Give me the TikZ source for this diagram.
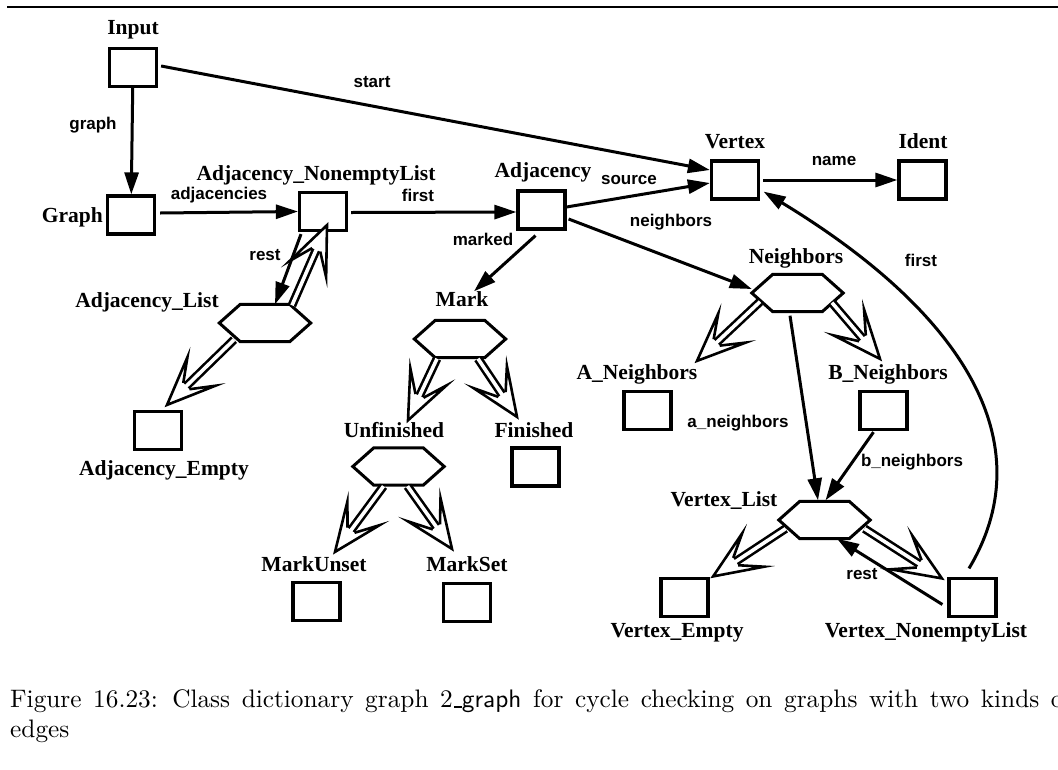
\documentclass[tikz,border=0pt]{standalone}
\usepackage{fontspec}
\usetikzlibrary{arrows.meta,calc}
\newfontfamily\clsfont{Liberation Serif}
\newfontfamily\lblfont{Liberation Sans}
\newfontfamily\capfont{lmroman10-regular}[Extension=.otf]
\newfontfamily\capsans{lmsans10-regular}[Extension=.otf]
\tikzset{
  cls/.style={draw, line width=3.2pt, minimum width=47pt, minimum height=38pt, inner sep=0pt},
  alt/.style={minimum width=91pt, minimum height=37pt, inner sep=0pt},
  hexline/.style={line width=3pt, line join=miter},
  cname/.style={font=\clsfont\bfseries\fontsize{21.5}{24}\selectfont, anchor=base, inner sep=0pt},
  elab/.style={font=\lblfont\bfseries\fontsize{17}{20}\selectfont, anchor=base, inner sep=0pt},
  rel/.style={line width=3pt, -{Triangle[length=22pt,width=14pt]}},
  dblline/.style={double, double distance=3.6pt, line width=2.6pt},
  headline/.style={line width=2.6pt, line join=miter, miter limit=20},
  captext/.style={font=\capfont\fontsize{25.3}{30}\selectfont, anchor=base west, inner sep=0pt},
}
\newcommand\hexnode[2]{%
  \node[alt] (#1) at (#2) {};
  \draw[hexline] (#1.west) -- ($(#1.north west)+(21,0)$) -- ($(#1.north east)+(-21,0)$)
     -- (#1.east) -- ($(#1.south east)+(-21,0)$) -- ($(#1.south west)+(21,0)$) -- cycle;
}
\newcommand\inhedge[2]{%
  \draw[dblline, shorten >=26pt] (#1) -- (#2);
  \path let \p1=($(#2)-(#1)$), \n1={atan2(\y1,\x1)} in \pgfextra{\xdef\inhang{\n1}};
  \begin{scope}[shift={(#2)}, rotate=\inhang]
    \fill[white] (0,0) -- (-48,20) -- (-27,4.4) -- (-27,-4.4) -- (-48,-20) -- cycle;
    \draw[headline] (-27,4.4) -- (-48,20) -- (0,0) -- (-48,-20) -- (-27,-4.4);
  \end{scope}
}
\newcommand\cmus{\kern0.06em\rule[-0.5pt]{0.3em}{2pt}}
\begin{document}
\begin{tikzpicture}[x=1pt,y=-1pt]
\useasboundingbox (0,0) rectangle (1058,769);
\clip (0,0) rectangle (1058,769);
\fill[white] (0,0) rectangle (1058,769);
\draw[line width=2.5pt] (7,7) coordinate (ruleA) -- (1058,7) coordinate (ruleB);

% class boxes
\node[cls] (Input) at (133,67.5) {};
\node[cls] (Graph) at (131,215) {};
\node[cls] (ANL) at (323,211.5) {};
\node[cls] (Adjacency) at (541.5,210) {};
\node[cls] (Vertex) at (735,180) {};
\node[cls] (Ident) at (922.5,180) {};
\node[cls] (Finished) at (535.5,467) {};
\node[cls] (MarkUnset) at (316.5,601.5) {};
\node[cls] (MarkSet) at (467,602.5) {};
\node[cls] (AdjEmpty) at (158,430.5) {};
\node[cls] (ANb) at (647.5,410.5) {};
\node[cls] (BNb) at (883.5,410.5) {};
\node[cls] (VEmpty) at (684.5,597.5) {};
\node[cls] (VNL) at (972.5,597.5) {};

% alternation hexagons
\hexnode{Mark}{460,339}
\hexnode{Unfinished}{398.5,466.5}
\hexnode{AdjList}{265,323}
\hexnode{Neighbors}{797.5,293}
\hexnode{VList}{824.5,520}

% class names
\node[cname] (tInput) at (133,34) {Input};
\node[cname, anchor=base east] (tGraph) at (103,222) {Graph};
\node[cname] (tANL) at (316,180) {Adjacency\_NonemptyList};
\node[cname] (tAdjacency) at (543,177) {Adjacency};
\node[cname] (tVertex) at (735,148) {Vertex};
\node[cname] (tIdent) at (923,148) {Ident};
\node[cname] (tNeighbors) at (796,263) {Neighbors};
\node[cname] (tMark) at (462,306) {Mark};
\node[cname] (tUnfinished) at (394,437) {Unfinished};
\node[cname] (tFinished) at (534,437) {Finished};
\node[cname] (tMarkUnset) at (314,571) {MarkUnset};
\node[cname] (tMarkSet) at (467,571) {MarkSet};
\node[cname] (tAdjList) at (147,307) {Adjacency\_List};
\node[cname] (tAdjEmpty) at (164,475) {Adjacency\_Empty};
\node[cname] (tANb) at (637,379) {A\_Neighbors};
\node[cname] (tBNb) at (888,379) {B\_Neighbors};
\node[cname] (tVList) at (724,506) {Vertex\_List};
\node[cname] (tVEmpty) at (677,637) {Vertex\_Empty};
\node[cname] (tVNL) at (926,637) {Vertex\_NonemptyList};

% construction edges
\draw[rel] (Input) -- (Graph);
\draw[rel] ($(Input.east)+(3,-1.5)$) -- ($(Vertex.west)+(0,-10)$);
\draw[rel] ($(Graph.east)+(4,-2)$) -- (ANL.west);
\draw[rel] ($(ANL.east)+(3,1)$) -- ($(Adjacency.west)+(0,2)$);
\draw[rel] ($(Adjacency.east)+(0,-3)$) -- ($(Vertex.west)+(0,3)$);
\draw[rel] ($(Adjacency.east)+(2,9)$) -- ($(Neighbors.west)+(0,-4)$);
\draw[rel] ($(Adjacency.south)+(-6,5)$) -- ($(Mark.north)+(14,-29)$);
\draw[rel] ($(Vertex.east)+(3,0)$) -- (Ident.west);
\draw[rel] ($(VNL.north)+(-3.5,-8.5)$) .. controls (1040,450) and (975,320) .. ($(Vertex.south east)+(3.5,-9)$);
\draw[rel] ($(ANL.south)+(-22,2)$) -- ($(AdjList.north)+(10,0)$);
\draw[rel] ($(Neighbors.south)+(-7.5,4)$) -- ($(VList.north)+(-6.5,-1)$);
\draw[rel] ($(BNb.south)+(-10,1)$) -- ($(VList.north)+(1,-1)$);
\draw[rel] ($(VNL.west)+(-5,7)$) -- ($(VList.south)+(12.5,0)$);

% alternation edges
\inhedge{$(AdjList.north)+(27,1)$}{$(ANL.south)+(4,-7)$}
\inhedge{$(AdjList.south)+(-31,-2)$}{$(AdjEmpty.north)+(9,-5)$}
\inhedge{$(Mark.south)+(-23,1)$}{$(Unfinished.north)+(9.5,-27.5)$}
\inhedge{$(Mark.south)+(18,1)$}{$(Finished.north)+(-18.5,-29.5)$}
\inhedge{$(Unfinished.south)+(-15,1)$}{$(MarkUnset.north)+(18.5,-29)$}
\inhedge{$(Unfinished.south)+(9,1)$}{$(MarkSet.north)+(-15,-33)$}
\inhedge{$(Neighbors.south)+(-37.5,-10)$}{$(ANb.north)+(49.5,-29)$}
\inhedge{$(Neighbors.south)+(34.5,-9)$}{$(BNb.north)+(-3.5,-31)$}
\inhedge{$(VList.south)+(-39,-10)$}{$(VEmpty.north east)+(3.5,-0.5)$}
\inhedge{$(VList.south)+(40,-10)$}{$(VNL.north west)+(-5.5,1.5)$}

% edge labels
\node[elab] (lgraph) at (93,129) {graph};
\node[elab] (lstart) at (372,87) {start};
\node[elab] (ladj) at (219,199) {adjacencies};
\node[elab] (lfirst) at (418,201) {first};
\node[elab] (lsource) at (629,184) {source};
\node[elab] (lname) at (834,165) {name};
\node[elab] (lneigh) at (671,226) {neighbors};
\node[elab] (lmarked) at (483,245) {marked};
\node[elab] (lfirst2) at (921,266) {first};
\node[elab] (lrest) at (265,260) {rest};
\node[elab] (lan) at (738,427) {a\_neighbors};
\node[elab] (lbn) at (912,466) {b\_neighbors};
\node[elab] (lrest2) at (862,579) {rest};

% caption
\node[captext] (cap1) at (10,707) {\spaceskip=11.6pt plus 1pt Figure 16.23: Class dictionary graph 2\cmus{\capsans graph} for cycle checking on graphs with two kinds of};
\node[captext] (cap2) at (10,737) {edges};
\end{tikzpicture}
\end{document}
